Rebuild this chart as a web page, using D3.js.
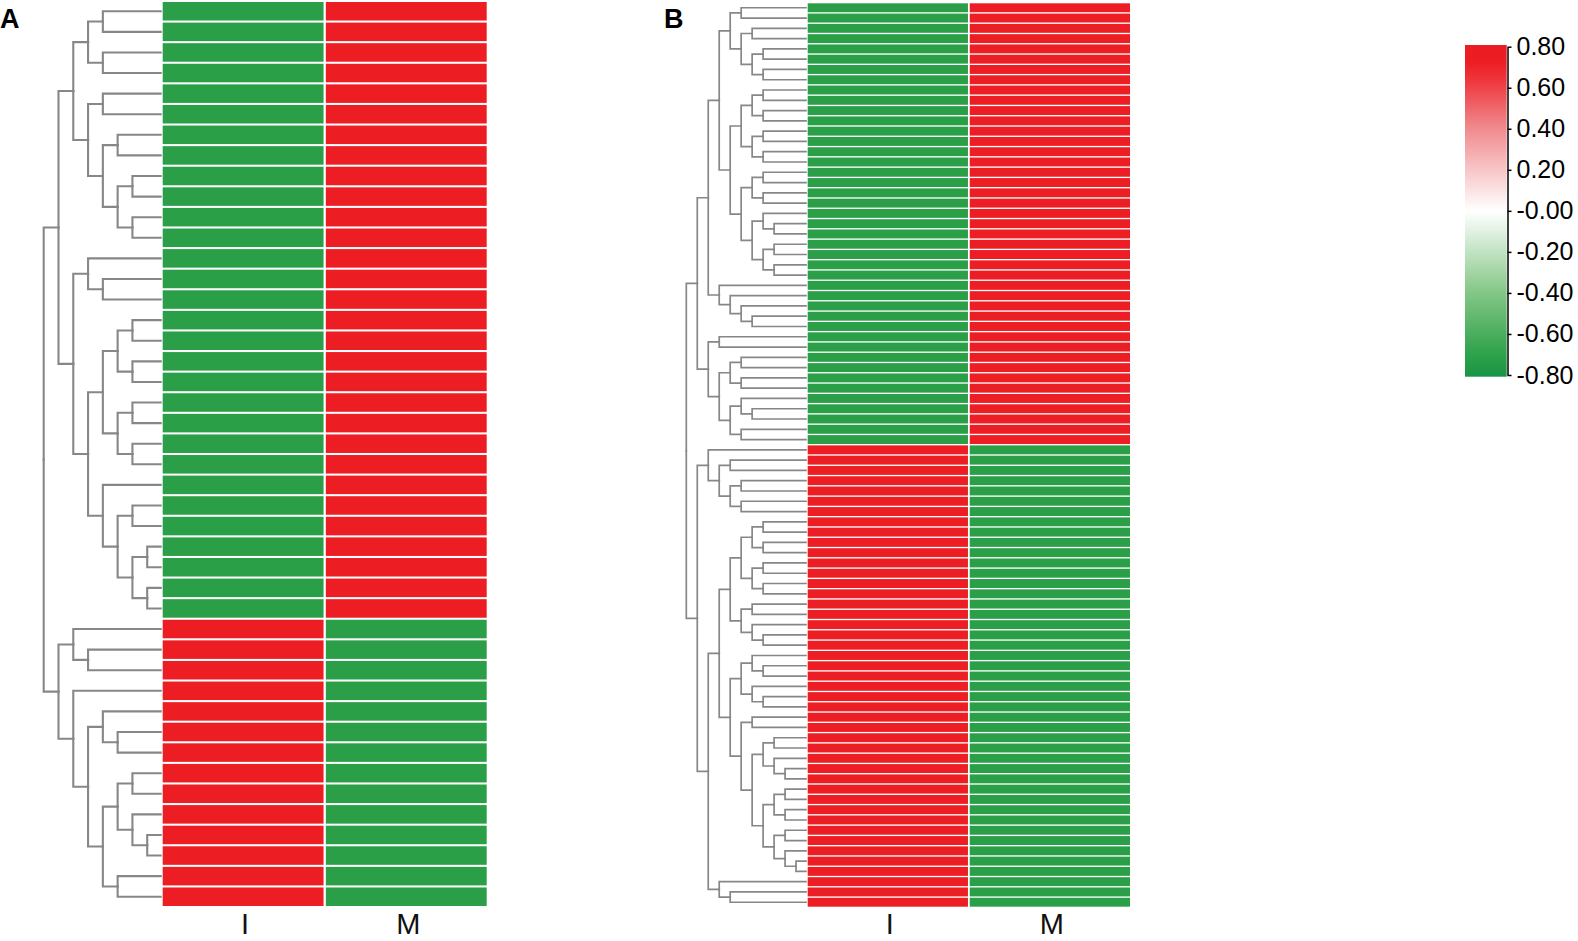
<!DOCTYPE html>
<html>
<head>
<meta charset="utf-8">
<script src="https://cdn.jsdelivr.net/npm/d3@7"></script>
<style>
  body { margin: 0; background: #fff; overflow: hidden; }
  svg { display: block; }
  text { font-family: Arial, "Liberation Sans", sans-serif; }
</style>
</head>
<body>
<svg id="vis"></svg>
<script>
const WIDTH = 1578;
const HEIGHT = 941;

const columns = ["I", "M"];

// panel A, 44 rows (row-scaled values)
const aValuesI = [
  -0.71,-0.71,-0.71,-0.71,-0.71,-0.71,-0.71,-0.71,-0.71,-0.71,
  -0.71,-0.71,-0.71,-0.71,-0.71,-0.71,-0.71,-0.71,-0.71,-0.71,
  -0.71,-0.71,-0.71,-0.71,-0.71,-0.71,-0.71,-0.71,-0.71,-0.71,
  0.71,0.71,0.71,0.71,0.71,0.71,0.71,0.71,0.71,0.71,
  0.71,0.71,0.71,0.71
];
const aValuesM = [
  0.71,0.71,0.71,0.71,0.71,0.71,0.71,0.71,0.71,0.71,
  0.71,0.71,0.71,0.71,0.71,0.71,0.71,0.71,0.71,0.71,
  0.71,0.71,0.71,0.71,0.71,0.71,0.71,0.71,0.71,0.71,
  -0.71,-0.71,-0.71,-0.71,-0.71,-0.71,-0.71,-0.71,-0.71,-0.71,
  -0.71,-0.71,-0.71,-0.71
];
// dendrogram: [height, child, child], a bare number is a row
const aTree =
[8,
  [7,
    [6,[5,[4,0,1],[4,2,3]],[5,[4,4,5],[4,[3,6,7],[3,[2,8,9],[2,10,11]]]]],
    [6,[5,12,[4,13,14]],[5,[4,[3,[2,15,16],[2,17,18]],[3,[2,19,20],[2,21,22]]],[4,23,[3,[2,24,25],[2,[1,26,27],[1,28,29]]]]]]
  ],
  [7,
    [6,30,[5,31,32]],
    [6,33,[5,[4,34,[3,35,36]],[4,[3,[2,37,38],[2,39,[1,40,41]]],[3,42,43]]]]
  ]
];

// panel B, 88 rows
const bValuesI = [
  -0.71,-0.71,-0.71,-0.71,-0.71,-0.71,-0.71,-0.71,-0.71,-0.71,
  -0.71,-0.71,-0.71,-0.71,-0.71,-0.71,-0.71,-0.71,-0.71,-0.71,
  -0.71,-0.71,-0.71,-0.71,-0.71,-0.71,-0.71,-0.71,-0.71,-0.71,
  -0.71,-0.71,-0.71,-0.71,-0.71,-0.71,-0.71,-0.71,-0.71,-0.71,
  -0.71,-0.71,-0.71,0.71,0.71,0.71,0.71,0.71,0.71,0.71,
  0.71,0.71,0.71,0.71,0.71,0.71,0.71,0.71,0.71,0.71,
  0.71,0.71,0.71,0.71,0.71,0.71,0.71,0.71,0.71,0.71,
  0.71,0.71,0.71,0.71,0.71,0.71,0.71,0.71,0.71,0.71,
  0.71,0.71,0.71,0.71,0.71,0.71,0.71,0.71
];
const bValuesM = [
  0.71,0.71,0.71,0.71,0.71,0.71,0.71,0.71,0.71,0.71,
  0.71,0.71,0.71,0.71,0.71,0.71,0.71,0.71,0.71,0.71,
  0.71,0.71,0.71,0.71,0.71,0.71,0.71,0.71,0.71,0.71,
  0.71,0.71,0.71,0.71,0.71,0.71,0.71,0.71,0.71,0.71,
  0.71,0.71,0.71,-0.71,-0.71,-0.71,-0.71,-0.71,-0.71,-0.71,
  -0.71,-0.71,-0.71,-0.71,-0.71,-0.71,-0.71,-0.71,-0.71,-0.71,
  -0.71,-0.71,-0.71,-0.71,-0.71,-0.71,-0.71,-0.71,-0.71,-0.71,
  -0.71,-0.71,-0.71,-0.71,-0.71,-0.71,-0.71,-0.71,-0.71,-0.71,
  -0.71,-0.71,-0.71,-0.71,-0.71,-0.71,-0.71,-0.71
];
const bTree =
[11,
  [10,
    [9,
      [8,
        [7,[6,0,1],[6,[5,2,3],[5,[4,4,5],[4,6,7]]]],
        [7,
          [6,[5,[4,8,9],[4,10,11]],[5,[4,12,13],[4,14,15]]],
          [6,[5,[4,16,17],[4,18,19]],[5,[4,20,[3,21,22]],[4,[3,23,24],[3,25,26]]]]
        ]
      ],
      [8,27,[7,28,[6,29,[5,30,31]]]]
    ],
    [9,
      [8,32,33],
      [8,[7,[6,34,35],[6,36,37]],[7,[6,38,[5,39,40]],[6,41,42]]]
    ]
  ],
  [10,
    [9,43,[8,[7,44,45],[7,[6,46,47],[6,48,49]]]],
    [9,
      [8,
        [7,[6,[5,[4,50,51],[4,52,53]],[5,[4,54,55],[4,56,57]]],[6,[5,58,59],[5,60,[4,61,62]]]],
        [7,[6,[5,63,[4,64,65]],[5,66,[4,67,68]]],[6,[5,69,70],[5,[4,[3,71,72],[3,73,[2,74,75]]],[4,[3,[2,76,77],[2,78,79]],[3,[2,80,81],[2,82,[1,83,84]]]]]]]
      ],
      [8,85,[7,86,87]]
    ]
  ]
];

const legendTicks = [0.8, 0.6, 0.4, 0.2, 0, -0.2, -0.4, -0.6, -0.8];
const legendLabels = ["0.80", "0.60", "0.40", "0.20", "-0.00", "-0.20", "-0.40", "-0.60", "-0.80"];

const color = d3.scaleLinear()
    .domain([-0.8, -0.7, -0.4, 0, 0.4, 0.7, 0.8])
    .range(["#199447", "#2ca048", "#82c685", "#ffffff", "#f08a8e", "#ed1d24", "#ec1c24"])
    .clamp(true);

const svg = d3.select("#vis")
    .attr("width", WIDTH)
    .attr("height", HEIGHT);

function toNode(a) {
    if (Array.isArray(a)) {
        return {h: a[0], children: a.slice(1).map(toNode)};
    }
    return {h: 0, row: a};
}

function drawPanel(p) {
    const n = p.valuesI.length;
    const rowScale = d3.scaleBand()
        .domain(d3.range(n))
        .range(p.yRange)
        .paddingInner(p.rowPad);
    const colScale = d3.scaleBand()
        .domain(columns)
        .range(p.xRange)
        .paddingInner(p.colPad);
    const hx = d3.scaleLinear()
        .domain([0, p.maxH])
        .range(p.treeRange);

    const g = svg.append("g");

    // heatmap cells
    const cells = [];
    for (let i = 0; i < n; i++) {
        cells.push({row: i, col: "I", v: p.valuesI[i]});
        cells.push({row: i, col: "M", v: p.valuesM[i]});
    }
    g.selectAll("rect.cell")
        .data(cells)
        .join("rect")
        .attr("class", "cell")
        .attr("x", d => colScale(d.col))
        .attr("y", d => rowScale(d.row))
        .attr("width", colScale.bandwidth())
        .attr("height", rowScale.bandwidth())
        .attr("fill", d => color(d.v));

    // dendrogram
    const root = d3.hierarchy(toNode(p.tree));
    root.eachAfter(nd => {
        if (nd.children) {
            nd.py = (nd.children[0].py + nd.children[nd.children.length - 1].py) / 2;
        } else {
            nd.py = rowScale(nd.data.row) + rowScale.bandwidth() / 2;
        }
    });
    const leafX = p.xRange[0] - p.leafGap;
    g.selectAll("path.link")
        .data(root.links())
        .join("path")
        .attr("class", "link")
        .attr("d", l => {
            const xs = hx(l.source.data.h);
            const xt = l.target.children ? hx(l.target.data.h) : leafX;
            return "M" + xs + "," + l.source.py + "V" + l.target.py + "H" + xt;
        })
        .attr("fill", "none")
        .attr("stroke", "#878787")
        .attr("stroke-width", p.lineW)
        .attr("stroke-linecap", "square");

    // column labels
    g.selectAll("text.col")
        .data(columns)
        .join("text")
        .attr("class", "col")
        .attr("x", d => colScale(d) + colScale.bandwidth() / 2 + 2)
        .attr("y", 934)
        .attr("text-anchor", "middle")
        .attr("font-size", "29px")
        .attr("fill", "#111")
        .text(d => d);

    // panel letter
    g.append("text")
        .attr("x", p.labelX)
        .attr("y", 28)
        .attr("font-size", "27px")
        .attr("font-weight", "bold")
        .attr("fill", "#000")
        .text(p.label);
}

drawPanel({
    label: "A", labelX: 0,
    valuesI: aValuesI, valuesM: aValuesM, tree: aTree, maxH: 8,
    yRange: [2, 906], rowPad: 0.1,
    xRange: [162.7, 486.7], colPad: 0.014,
    treeRange: [162, 43.7], leafGap: 2, lineW: 2.1
});

drawPanel({
    label: "B", labelX: 664,
    valuesI: bValuesI, valuesM: bValuesM, tree: bTree, maxH: 11,
    yRange: [3.3, 906.7], rowPad: 0.13,
    xRange: [807.7, 1130], colPad: 0.011,
    treeRange: [807, 686.3], leafGap: 1.7, lineW: 1.7
});

// colour legend
const legendY = d3.scaleLinear().domain([-0.8, 0.8]).range([375, 46.7]);
const defs = svg.append("defs");
const grad = defs.append("linearGradient")
    .attr("id", "legendGrad")
    .attr("x1", 0).attr("y1", 1)
    .attr("x2", 0).attr("y2", 0);
grad.selectAll("stop")
    .data(d3.range(0, 1.0001, 0.05))
    .join("stop")
    .attr("offset", t => t)
    .attr("stop-color", t => color(-0.8 + 1.6 * t));

svg.append("rect")
    .attr("x", 1465)
    .attr("y", 45)
    .attr("width", 41.7)
    .attr("height", 331.7)
    .attr("fill", "url(#legendGrad)");

const legendAxis = svg.append("g")
    .attr("transform", "translate(1507.5,0)")
    .call(d3.axisRight(legendY)
        .tickValues(legendTicks)
        .tickFormat((d, i) => legendLabels[i])
        .tickSize(4)
        .tickSizeOuter(0)
        .tickPadding(5));
legendAxis.select(".domain").attr("stroke", "#000").attr("stroke-width", 1.5);
legendAxis.selectAll(".tick line").attr("stroke", "#000").attr("stroke-width", 1.5);
legendAxis.selectAll(".tick text")
    .attr("font-size", "25px")
    .attr("font-family", "Arial, 'Liberation Sans', sans-serif")
    .attr("fill", "#000");
</script>
</body>
</html>
